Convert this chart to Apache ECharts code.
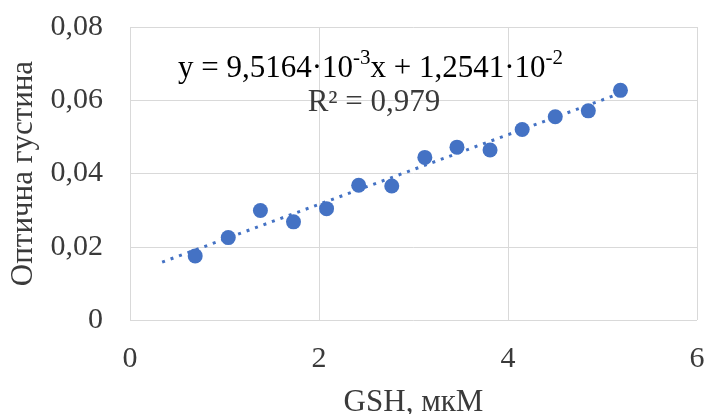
<!DOCTYPE html>
<html><head><meta charset="utf-8">
<script src="https://cdn.jsdelivr.net/npm/echarts@6/dist/echarts.min.js"></script>
<style>html,body{margin:0;padding:0;background:#fff}#c{width:704px;height:414px}</style>
</head><body><div id="c"></div>
<script>
const gshValues = [0.69, 1.04, 1.38, 1.73, 2.08, 2.42, 2.77, 3.12, 3.46, 3.81, 4.15, 4.50, 4.85, 5.19];
const densityValues = [0.0175, 0.0225, 0.0299, 0.0268, 0.0304, 0.0368, 0.0366, 0.0444, 0.0472, 0.0464, 0.0520, 0.0555, 0.0571, 0.0627];
const trendX = [0.34, 5.22];
const trendY = [0.0158, 0.0622];
const xTicks = { min: 0, max: 6, interval: 2 };
const yTicks = { min: 0, max: 0.08, interval: 0.02 };
const xName = 'GSH, мкМ';
const yName = 'Оптична густина';
const eqParts = ['y = 9,5164·10', '-3', 'x + 1,2541·10', '-2'];
const r2Text = 'R² = 0,979';

const FONT = '"Liberation Serif", "Times New Roman", serif';
const TXT = '#3a3a3a';
const BLUE = '#4472C4';
const GRID = '#d9d9d9';

const chart = echarts.init(document.getElementById('c'), null, { renderer: 'canvas' });
chart.setOption({
  animation: false,
  backgroundColor: '#fff',
  grid: { left: 130, right: 7, top: 27, bottom: 94, outerBoundsMode: 'none', containLabel: false },
  xAxis: {
    type: 'value', min: xTicks.min, max: xTicks.max, interval: xTicks.interval,
    name: xName, nameLocation: 'middle', nameGap: 67,
    nameTextStyle: { fontFamily: FONT, fontSize: 31, color: TXT },
    axisLine: { show: false }, axisTick: { show: false },
    axisLabel: { fontFamily: FONT, fontSize: 30, color: TXT, margin: 24 },
    splitLine: { show: true, lineStyle: { color: GRID, width: 1 } }
  },
  yAxis: {
    type: 'value', min: yTicks.min, max: yTicks.max, interval: yTicks.interval,
    name: yName, nameLocation: 'middle', nameGap: 88, nameRotate: 90,
    nameTextStyle: { fontFamily: FONT, fontSize: 31, color: TXT },
    axisLine: { show: false }, axisTick: { show: false },
    axisLabel: {
      fontFamily: FONT, fontSize: 30, color: TXT, margin: 27,
      formatter: v => v === 0 ? '0' : v.toFixed(2).replace('.', ',')
    },
    splitLine: { show: true, lineStyle: { color: GRID, width: 1 } }
  },
  series: [
    {
      type: 'line', data: trendX.map((x, i) => [x, trendY[i]]),
      symbol: 'none', silent: true, z: 1,
      lineStyle: { color: BLUE, width: 3, type: [3, 6], opacity: 1 }
    },
    {
      type: 'scatter', data: gshValues.map((x, i) => [x, densityValues[i]]),
      symbol: 'circle', symbolSize: 15, z: 2,
      itemStyle: { color: BLUE, opacity: 1 }
    }
  ],
  graphic: [
    {
      type: 'text', left: 178, top: 48, z: 10,
      style: {
        text: '{a|' + eqParts[0] + '}{s|' + eqParts[1] + '}{a|' + eqParts[2] + '}{s|' + eqParts[3] + '}',
        rich: {
          a: { fontFamily: FONT, fontSize: 31, color: TXT, lineHeight: 36, verticalAlign: 'bottom' },
          s: { fontFamily: FONT, fontSize: 21, color: TXT, lineHeight: 23, verticalAlign: 'top' }
        }
      }
    },
    {
      type: 'text', z: 10, x: 374, y: 103,
      style: {
        text: r2Text, fontFamily: FONT, fontSize: 31, fill: TXT,
        align: 'center', verticalAlign: 'middle'
      }
    }
  ]
});
</script></body></html>
